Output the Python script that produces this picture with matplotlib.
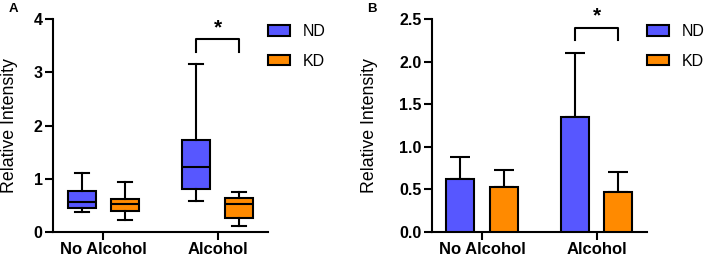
import numpy as np
import matplotlib.pyplot as plt

plt.rcParams['font.family'] = ['Liberation Sans', 'DejaVu Sans']

groups = ['No Alcohol', 'Alcohol']
series = ['ND', 'KD']
colors = ['#5757ff', '#ff8a00']

# panel A: box stats (whislo, q1, med, q3, whishi) per series, per group
nd_box = [[0.375, 0.456, 0.56, 0.77, 1.106],
          [0.59, 0.81, 1.23, 1.73, 3.156]]
kd_box = [[0.23, 0.40, 0.52, 0.625, 0.94],
          [0.11, 0.26, 0.52, 0.63, 0.76]]

# panel B: mean and upper error
nd_mean = [0.625, 1.355]
nd_err = [0.254, 0.745]
kd_mean = [0.523, 0.465]
kd_err = [0.207, 0.235]

fig = plt.figure(figsize=(7.08, 2.6), dpi=100)
axA = fig.add_axes([0.0749, 0.1077, 0.3037, 0.819])
axB = fig.add_axes([0.610, 0.1077, 0.3037, 0.819])

off = 0.19
w = 0.245
x = np.arange(len(groups))
lw = 1.5

# ---- A: box plot
for s, (boxes, c) in enumerate(zip([nd_box, kd_box], colors)):
    stats = []
    for b in boxes:
        stats.append(dict(whislo=b[0], q1=b[1], med=b[2], q3=b[3], whishi=b[4]))
    pos = x + (off if s else -off)
    axA.bxp(stats, positions=pos, widths=w, patch_artist=True, showfliers=False,
            boxprops=dict(facecolor=c, edgecolor='black', linewidth=lw),
            medianprops=dict(color='black', linewidth=lw),
            whiskerprops=dict(color='black', linewidth=lw),
            capprops=dict(color='black', linewidth=lw), capwidths=w * 0.5,
            manage_ticks=False)

axA.set_ylim(0, 4)
axA.set_yticks([0, 1, 2, 3, 4])
axA.set_yticklabels(['0', '1', '2', '3', '4'])

# ---- B: bar chart
for s, (m, e, c) in enumerate(zip([nd_mean, kd_mean], [nd_err, kd_err], colors)):
    pos = x + (off if s else -off)
    axB.bar(pos, m, width=w, color=c, edgecolor='black', linewidth=lw, zorder=3)
    axB.errorbar(pos, m, yerr=[np.zeros(len(e)), e], fmt='none', ecolor='black',
                 elinewidth=lw, capsize=7, capthick=lw, zorder=2)

axB.set_ylim(0, 2.5)
axB.set_yticks([0, 0.5, 1.0, 1.5, 2.0, 2.5])
axB.set_yticklabels(['0.0', '0.5', '1.0', '1.5', '2.0', '2.5'])

# significance brackets
for ax, top, leg, star in [(axA, 3.62, 3.38, 3.66), (axB, 2.39, 2.25, 2.43)]:
    ax.plot([1 - off, 1 - off, 1 + off, 1 + off], [leg, top, top, leg],
            color='black', lw=lw, clip_on=False)
    ax.text(1, star, '*', ha='center', va='bottom', fontsize=15, fontweight='bold')

for ax, lx in [(axA, -0.165), (axB, -0.25)]:
    ax.set_xlim(-0.44, 1.44)
    ax.set_xticks(x)
    ax.set_xticklabels(groups, fontsize=12, fontweight='bold')
    for t in ax.get_yticklabels():
        t.set_fontweight('bold')
        t.set_fontsize(11.5)
    ax.spines['top'].set_visible(False)
    ax.spines['right'].set_visible(False)
    ax.spines['left'].set_linewidth(lw)
    ax.spines['bottom'].set_linewidth(lw)
    ax.tick_params(width=lw, length=5.5, pad=2)
    ax.set_ylabel('Relative Intensity', fontsize=12.8)
    ax.yaxis.set_label_coords(lx, 0.5)
    handles = [plt.Rectangle((0, 0), 1, 1, facecolor=c, edgecolor='black', linewidth=lw)
               for c in colors]
    ax.legend(handles, series, loc='upper left', bbox_to_anchor=(1.0, 0.975),
              frameon=False, fontsize=11.5, handlelength=1.4, handleheight=0.65,
              labelspacing=0.9, handletextpad=0.8, borderpad=0, borderaxespad=0)

fig.text(0.012, 0.965, 'A', fontsize=9.5, fontweight='bold', va='center')
fig.text(0.519, 0.965, 'B', fontsize=9.5, fontweight='bold', va='center')

fig.savefig('out.png', dpi=100)
